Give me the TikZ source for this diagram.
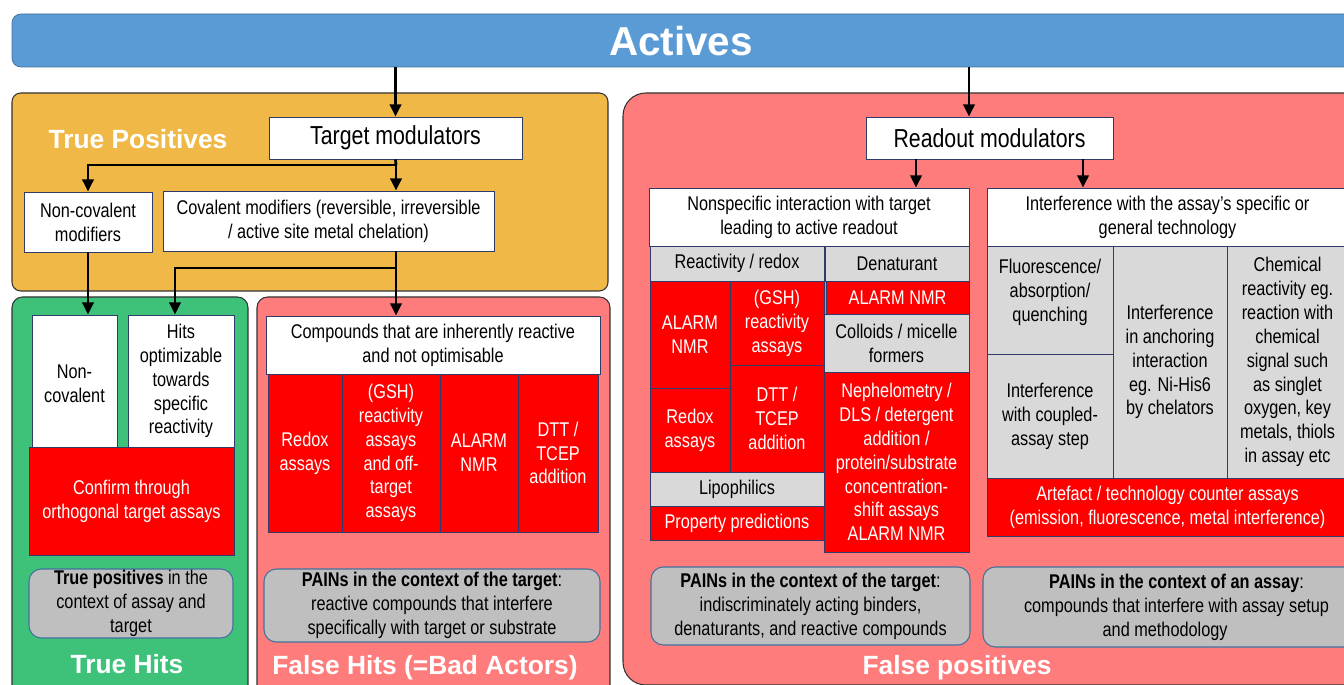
\documentclass[tikz,border=0pt]{standalone}
\usepackage{fontspec}
\setmainfont{Liberation Sans}[FakeStretch=0.82]
\newfontfamily\headfamily{Liberation Sans}
\usetikzlibrary{arrows.meta}

\definecolor{bannerblue}{HTML}{5B9BD5}
\definecolor{bannerline}{HTML}{41719C}
\definecolor{tporange}{HTML}{F0B847}
\definecolor{thgreen}{HTML}{3EC27A}
\definecolor{fhpink}{HTML}{FF7C7C}
\definecolor{cellred}{HTML}{FF0000}
\definecolor{cellgray}{HTML}{D9D9D9}
\definecolor{painsgray}{HTML}{BFBFBF}
\definecolor{painline}{HTML}{41719C}
\definecolor{cellline}{HTML}{2F3B6B}
\definecolor{frameline}{HTML}{333333}

\newcommand\normtext{\fontsize{11.3}{13.6}\selectfont}
\newcommand\bigtext{\fontsize{14.8}{16}\selectfont}
\newcommand\headtext{\headfamily\fontsize{15}{17}\selectfont\bfseries}
\newcommand\titletext{\headfamily\fontsize{23}{26}\selectfont\bfseries}

\tikzset{
  span/.style args={#1,#2,#3,#4}{minimum width={(#3-#1)*0.02cm},
    minimum height={(#4-#2)*0.02cm}, at={({(#1+#3)/2},{(#2+#4)/2})}},
  cell/.style={draw=cellline, line width=0.5pt, inner sep=0pt, align=center, font=\normtext},
  whitecell/.style={cell, fill=white},
  graycell/.style={cell, fill=cellgray},
  redcell/.style={cell, fill=cellred, text=white},
  painbox/.style={draw=painline, fill=painsgray, rounded corners=7pt, line width=0.6pt,
    inner sep=0pt, align=center, font=\normtext},
  heading/.style={text=white, font=\headtext},
  region/.style={draw=frameline, line width=0.6pt},
  arr/.style={line width=1.6pt, -{Triangle[length=7pt,width=6.5pt]}},
  link/.style={line width=1.6pt},
}

\begin{document}
\begin{tikzpicture}[x=0.02cm, y=-0.02cm]
  \clip (0,0) rectangle (1344,685);
  % regions
  \draw[region, fill=tporange, rounded corners=5pt] (12,93) rectangle (608,291);
  \draw[region, fill=thgreen, rounded corners=6pt] (12,297) rectangle (248,700);
  \draw[region, fill=fhpink, rounded corners=6pt] (257,297) rectangle (610,700);
  \draw[region, fill=fhpink, rounded corners=13pt] (623,93) rectangle (1370,685);

  % banner
  \node[draw=bannerline, fill=bannerblue, rounded corners=5pt, inner sep=0pt,
    span={12,14,1370,67}] (act) {};
  \node[heading, font=\titletext] (acttxt) at (681,41) {Actives};

  % true positives
  \node[heading] (tptxt) at (138,139) {True Positives};
  \node[whitecell, font=\bigtext, span={269,117,522,159}] (tm) {Target modulators};
  \node[whitecell, span={24,192,152,252}] (ncm) {Non-covalent\\modifiers};
  \node[whitecell, span={163,191,494,251}] (cm) {Covalent modifiers (reversible, irreversible\\/ active site metal chelation)};

  % true hits
  \node[whitecell, span={32,315,117,447}] (nc) {\mbox{}\\[-2.3pt]Non-\\covalent};
  \node[whitecell, span={128,315,234,447}] (hit) {Hits\\optimizable\\towards\\specific\\reactivity};
  \node[redcell, span={29,447,234,555}] (conf) {Confirm through\\orthogonal target assays};
  \node[painbox, span={29,569,233,638}] (tpc) {\textbf{True positives} in the\\context of assay and\\target};
  \node[heading] (thtxt) at (127,664) {True Hits};

  % false hits
  \node[whitecell, span={266,316,600,374}] (cpd) {Compounds that are inherently reactive\\and not optimisable};
  \node[redcell, span={268,374,342,532}] (rdx) {Redox\\assays};
  \node[redcell, span={342,374,440,532}] (gsh) {(GSH)\\reactivity\\assays\\and off-\\target\\assays};
  \node[redcell, span={440,374,518,532}] (alm) {ALARM\\NMR};
  \node[redcell, span={518,374,598,532}] (dtt) {DTT /\\TCEP\\addition};
  \node[painbox, span={264,569,600,642}] (fhc) {\textbf{PAINs in the context of the target}:\\reactive compounds that interfere\\specifically with target or substrate};
  \node[heading] (fhtxt) at (425,668) {False Hits (=Bad Actors)};

  % false positives
  \node[whitecell, font=\bigtext, span={866,117,1113,159}] (rm) {Readout modulators};
  \node[whitecell, span={649,188,969,246}] (ns) {Nonspecific interaction with target\\leading to active readout};
  \node[whitecell, span={987,188,1348,246}] (itf) {Interference with the assay’s specific or\\general technology};
  \node[graycell, span={650,246,824,281}] (rr) {Reactivity / redox};
  \node[graycell, span={825,246,969,281}] (den) {Denaturant};
  \node[redcell, span={650,281,730,388}] (alm2) {ALARM\\NMR};
  \node[redcell, span={730,281,824,365}] (gsh2) {(GSH)\\reactivity\\assays};
  \node[redcell, span={650,388,730,472}] (rdx2) {Redox\\assays};
  \node[redcell, span={730,365,824,472}] (dtt2) {DTT /\\TCEP\\addition};
  \node[graycell, span={650,472,824,506}] (lip) {Lipophilics};
  \node[redcell, span={650,506,824,540}] (prop) {Property predictions};
  \node[redcell, span={826,281,969,314}] (alm3) {ALARM NMR};
  \node[graycell, span={824,314,969,372}] (col) {Colloids / micelle\\formers};
  \node[redcell, span={824,372,969,552}] (neph) {Nephelometry /\\DLS / detergent\\addition /\\protein/substrate\\concentration-\\shift assays\\ALARM NMR};
  \node[graycell, span={987,246,1113,354}] (flu) {Fluorescence/\\absorption/\\quenching\\[-2.3pt]};
  \node[graycell, span={987,354,1113,478}] (cpl) {Interference\\with coupled-\\assay step};
  \node[graycell, span={1113,246,1227,478}] (anc) {Interference\\in anchoring\\interaction\\eg. Ni-His6\\by chelators};
  \node[graycell, span={1227,246,1348,478}] (chem) {Chemical\\reactivity eg.\\reaction with\\chemical\\signal such\\as singlet\\oxygen, key\\metals, thiols\\in assay etc};
  \node[redcell, span={987,478,1348,536}] (art) {Artefact / technology counter assays\\(emission, fluorescence, metal interference)};
  \node[painbox, span={651,567,970,645}] (fpt) {\textbf{PAINs in the context of the target}:\\indiscriminately acting binders,\\denaturants, and reactive compounds};
  \node[painbox, span={983,567,1370,647}] (fpa) {\textbf{PAINs in the context of an assay}:\\compounds that interfere with assay setup\\and methodology\hspace*{13pt}};
  \node[heading] (fptxt) at (957,668) {False positives};

  % connectors
  \coordinate (j1) at (396,165);
  \coordinate (j2) at (396,268);
  \coordinate (j3) at (969,100);
  \coordinate (k1) at (175,0);
  \coordinate (k2) at (916,0);
  \coordinate (k3) at (1083,0);
  \draw[arr] (act.south -| tm.north) -- (tm.north);
  \draw[link] (tm.south) -- (j1);
  \draw[arr] (j1) -| (ncm.north);
  \draw[arr] (j1) -- (j1 |- cm.north);
  \draw[arr] (ncm.south) -- (ncm.south |- nc.north);
  \draw[link] (j2 |- cm.south) -- (j2);
  \draw[arr] (j2) -| (k1 |- hit.north);
  \draw[arr] (j2) -- (j2 |- cpd.north);
  \draw[arr] (act.south -| j3) -- (j3 |- rm.north);
  \draw[arr] (rm.south -| k2) -- (k2 |- ns.north);
  \draw[arr] (rm.south -| k3) -- (k3 |- itf.north);
\end{tikzpicture}
\end{document}
